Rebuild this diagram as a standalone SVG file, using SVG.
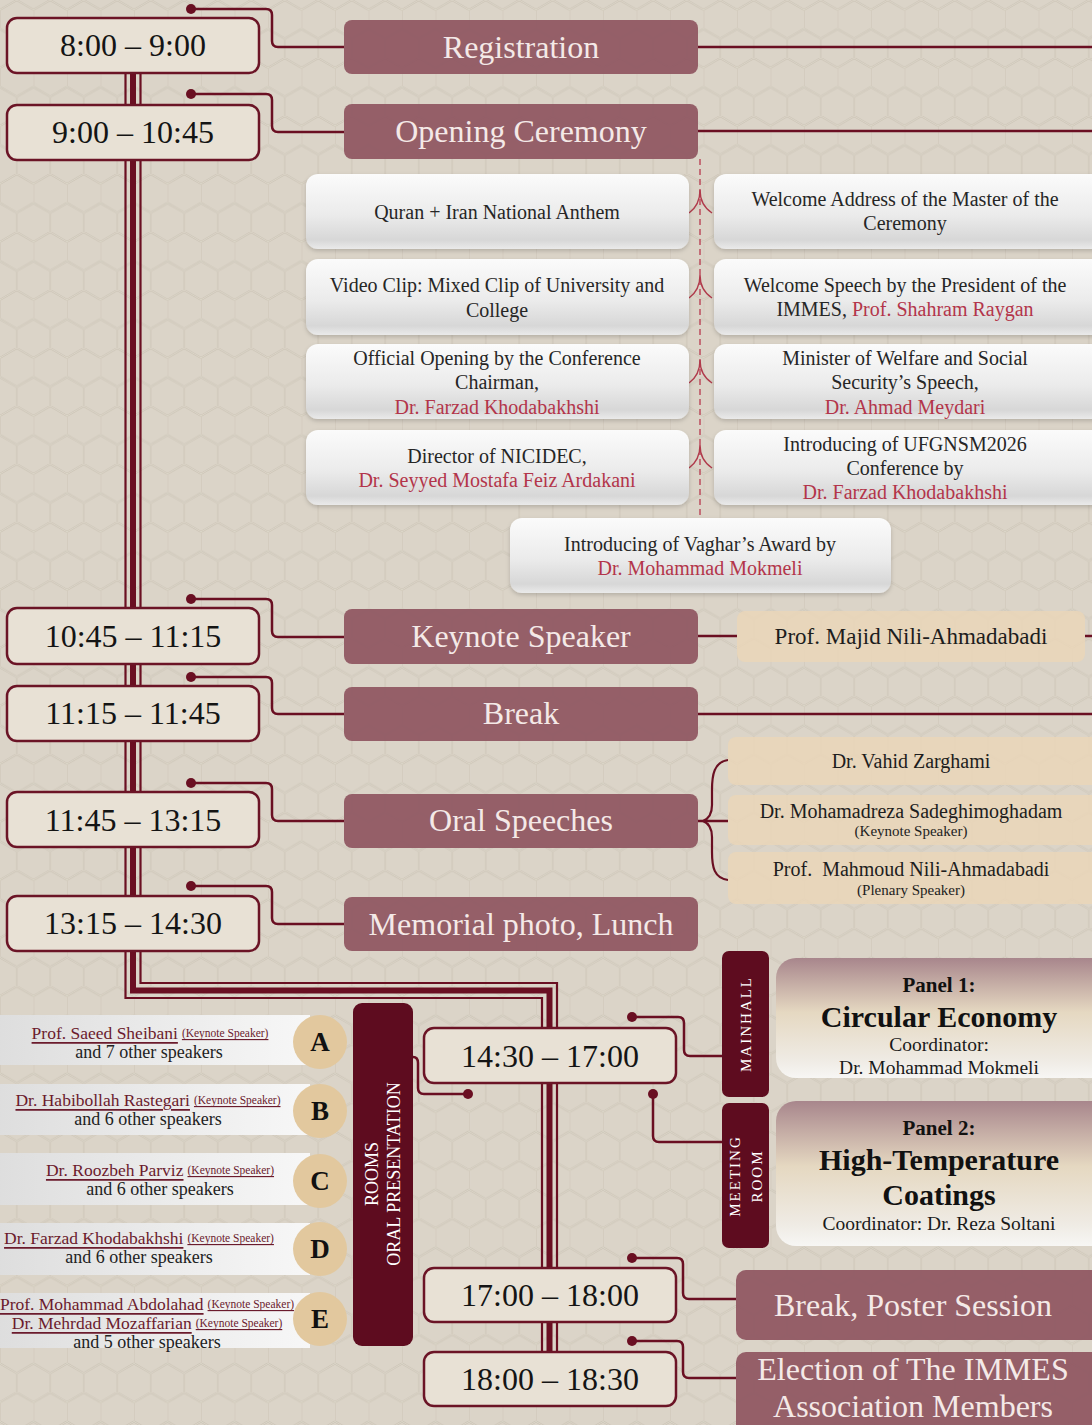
<svg xmlns="http://www.w3.org/2000/svg" width="1092" height="1425" viewBox="0 0 1092 1425">
<defs>
<pattern id="hex" width="33.5" height="58.02" patternUnits="userSpaceOnUse">
<path d="M0,9.67 L16.75,0 L33.5,9.67 M0,9.67 V29.01 L16.75,38.68 L33.5,29.01 M16.75,38.68 V58.02" fill="none" stroke="#cbc3b5" stroke-width="2"/>
<path d="M0,9.67 L16.75,0 L33.5,9.67 M0,9.67 V29.01 L16.75,38.68 L33.5,29.01 M16.75,38.68 V58.02" fill="none" stroke="#e3ddd2" stroke-width="0.7"/>
</pattern>
<linearGradient id="cardG" x1="0" y1="0" x2="0" y2="1">
<stop offset="0" stop-color="#fbfbfb"/><stop offset="0.55" stop-color="#ebebeb"/><stop offset="0.88" stop-color="#d7d7d7"/><stop offset="1" stop-color="#eaeaea"/>
</linearGradient>
<linearGradient id="stripG" x1="0" y1="0" x2="1" y2="0">
<stop offset="0" stop-color="#dddddd"/><stop offset="1" stop-color="#f7f7f7"/>
</linearGradient>
<linearGradient id="panelG" x1="0" y1="0" x2="0" y2="1">
<stop offset="0" stop-color="#a8868c"/><stop offset="0.45" stop-color="#e5d8c1"/><stop offset="0.85" stop-color="#efebe4"/><stop offset="1" stop-color="#f7f6f4"/>
</linearGradient>
<filter id="sh" x="-5%" y="-10%" width="110%" height="130%">
<feDropShadow dx="0" dy="2" stdDeviation="2" flood-color="#000" flood-opacity="0.18"/>
</filter>
</defs>
<style>
text{font-family:"Liberation Serif","DejaVu Serif",serif;text-anchor:middle;dominant-baseline:central}
.tb{fill:#e8e1d5;stroke:#6b1426;stroke-width:2.5}
.tt{font-size:32px;fill:#141414}
.ev{fill:#8f5661;fill-opacity:0.93}
.et{font-size:32px;fill:#f4e9e7}
.card{fill:url(#cardG);filter:url(#sh)}
.ct{font-size:20px;fill:#262626}
.rd{fill:#b3354a}
.tan{fill:#ead6b8;fill-opacity:0.85}
.tn{font-size:23px;fill:#1d1d1d}
.os{font-size:20px;fill:#1d1d1d}
.sm{font-size:15px;fill:#1d1d1d}
.ln{fill:none;stroke:#6a0f22;stroke-width:2.5}
.thin{fill:none;stroke:#6a0f22;stroke-width:2.2}
.thick{fill:none;stroke:#6a0f22;stroke-width:6}
.dot{fill:#6a0f22}
.mar{fill:#5e0c1f}
.rt{font-size:18px;fill:#ffffff}
.vt{font-size:15px;fill:#ffffff;letter-spacing:2px}
.strip{fill:url(#stripG)}
.sp{font-size:18px;fill:#222}
.nm{font-size:17.5px;fill:#6b1b2d;text-decoration:underline}
.ks{font-size:11.5px;fill:#6b1b2d;text-decoration:underline}
.circ{fill:#e2c89e}
.lt{font-size:27px;font-weight:bold;fill:#111}
.panel{fill:url(#panelG)}
.pb{font-weight:bold;fill:#111}
.pc{font-size:19.5px;fill:#1a1a1a}
.arch{fill:none;stroke:#b03a4b;stroke-width:1.4}
</style>

<rect x="0" y="0" width="1092" height="1425" fill="#dbd4c8"/>
<rect x="0" y="0" width="1092" height="1425" fill="url(#hex)"/>

<g id="connectors">
<path class="thin" d="M125.5 60 V998 H542 V1360"/>
<path class="thick" d="M133 60 V990.5 H549.5 V1360"/>
<path class="thin" d="M140.5 60 V983 H557 V1360"/>
<circle class="dot" cx="191" cy="9" r="5"/>
<path class="ln" d="M191 9 H266 Q272 9 272 15 V41 Q272 47 278 47 H344"/>
<circle class="dot" cx="191" cy="94" r="5"/>
<path class="ln" d="M191 94 H266 Q272 94 272 100 V126 Q272 132 278 132 H344"/>
<circle class="dot" cx="191" cy="599" r="5"/>
<path class="ln" d="M191 599 H266 Q272 599 272 605 V631 Q272 637 278 637 H344"/>
<circle class="dot" cx="191" cy="677" r="5"/>
<path class="ln" d="M191 677 H266 Q272 677 272 683 V708 Q272 714 278 714 H344"/>
<circle class="dot" cx="191" cy="783" r="5"/>
<path class="ln" d="M191 783 H266 Q272 783 272 789 V815 Q272 821 278 821 H344"/>
<circle class="dot" cx="191" cy="886" r="5"/>
<path class="ln" d="M191 886 H266 Q272 886 272 892 V918 Q272 924 278 924 H344"/>
<path class="ln" d="M698 47 H1092"/>
<path class="ln" d="M698 131 H1092"/>
<path class="ln" d="M698 636 H737 M1085 636 H1092"/>
<path class="ln" d="M698 714 H1092"/>
<path class="ln" d="M698 821 H728"/>
<path class="thin" d="M728 760 C714 762 712 775 712 790 V805 C712 815 708 819 703 821 C708 823 712 827 712 837 V852 C712 867 714 878 728 880"/>
<path d="M700 159 V517" fill="none" stroke="#b8394e" stroke-width="1.3" stroke-dasharray="6 4"/>
<path class="arch" d="M689 213 Q700 205 700 190 Q700 205 712 213"/>
<path class="arch" d="M689 298 Q700 290 700 275 Q700 290 712 298"/>
<path class="arch" d="M689 383 Q700 375 700 360 Q700 375 712 383"/>
<path class="arch" d="M689 468 Q700 460 700 445 Q700 460 712 468"/>
<circle class="dot" cx="632" cy="1017" r="5"/>
<path class="ln" d="M632 1017 H678 Q684 1017 684 1023 V1050 Q684 1056 690 1056 H722"/>
<circle class="dot" cx="653" cy="1094" r="5"/>
<path class="ln" d="M653 1094 V1136 Q653 1142 659 1142 H722"/>
<circle class="dot" cx="468" cy="1094" r="5"/>
<path class="ln" d="M413 1057 Q418 1057 418 1063 V1088 Q418 1094 424 1094 H468"/>
<circle class="dot" cx="632" cy="1258" r="5"/>
<path class="ln" d="M632 1258 H677 Q683 1258 683 1264 V1293 Q683 1299 689 1299 H736"/>
<circle class="dot" cx="632" cy="1341" r="5"/>
<path class="ln" d="M632 1341 H677 Q683 1341 683 1347 V1372 Q683 1378 689 1378 H736"/>
</g>

<g id="t0800"><rect class="tb" x="7" y="18" width="252" height="55" rx="10"/><text class="tt" x="133" y="45">8:00 – 9:00</text></g>
<g id="t0900"><rect class="tb" x="7" y="105" width="252" height="55" rx="10"/><text class="tt" x="133" y="132">9:00 – 10:45</text></g>
<g id="t1045"><rect class="tb" x="7" y="608" width="252" height="56" rx="10"/><text class="tt" x="133" y="636">10:45 – 11:15</text></g>
<g id="t1115"><rect class="tb" x="7" y="686" width="252" height="55" rx="10"/><text class="tt" x="133" y="713">11:15 – 11:45</text></g>
<g id="t1145"><rect class="tb" x="7" y="792" width="252" height="55" rx="10"/><text class="tt" x="133" y="820">11:45 – 13:15</text></g>
<g id="t1315"><rect class="tb" x="7" y="896" width="252" height="55" rx="10"/><text class="tt" x="133" y="923">13:15 – 14:30</text></g>
<g id="t1430"><rect class="tb" x="424" y="1028" width="252" height="55" rx="10"/><text class="tt" x="550" y="1056">14:30 – 17:00</text></g>
<g id="t1700"><rect class="tb" x="424" y="1268" width="252" height="54" rx="10"/><text class="tt" x="550" y="1295">17:00 – 18:00</text></g>
<g id="t1800"><rect class="tb" x="424" y="1352" width="252" height="54" rx="10"/><text class="tt" x="550" y="1379">18:00 – 18:30</text></g>

<g id="registration"><rect class="ev" x="344" y="20" width="354" height="54" rx="8"/><text class="et" x="521" y="47">Registration</text></g>
<g id="opening"><rect class="ev" x="344" y="104" width="354" height="55" rx="8"/><text class="et" x="521" y="131">Opening Ceremony</text></g>
<g id="keynote"><rect class="ev" x="344" y="609" width="354" height="55" rx="8"/><text class="et" x="521" y="636">Keynote Speaker</text></g>
<g id="break1"><rect class="ev" x="344" y="687" width="354" height="54" rx="8"/><text class="et" x="521" y="713">Break</text></g>
<g id="oral"><rect class="ev" x="344" y="794" width="354" height="54" rx="8"/><text class="et" x="521" y="820">Oral Speeches</text></g>
<g id="memorial"><rect class="ev" x="344" y="897" width="354" height="54" rx="8"/><text class="et" x="521" y="924">Memorial photo, Lunch</text></g>
<g id="poster"><rect class="ev" x="736" y="1270" width="370" height="70" rx="10"/><text class="et" x="913" y="1305">Break, Poster Session</text></g>
<g id="election"><rect class="ev" x="736" y="1352" width="370" height="85" rx="10"/><text class="et" x="913" y="1369">Election of The IMMES</text><text class="et" x="913" y="1406">Association Members</text></g>

<g id="c-quran"><rect class="card" x="306" y="174" width="383" height="75" rx="12"/><text class="ct" x="497" y="212">Quran + Iran National Anthem</text></g>
<g id="c-video"><rect class="card" x="306" y="259" width="383" height="76" rx="12"/><text class="ct" x="497" y="285">Video Clip: Mixed Clip of University and</text><text class="ct" x="497" y="310">College</text></g>
<g id="c-official"><rect class="card" x="306" y="344" width="383" height="75" rx="12"/><text class="ct" x="497" y="358">Official Opening by the Conference</text><text class="ct" x="497" y="382">Chairman,</text><text class="ct rd" x="497" y="407">Dr. Farzad Khodabakhshi</text></g>
<g id="c-director"><rect class="card" x="306" y="430" width="383" height="75" rx="12"/><text class="ct" x="497" y="456">Director of NICIDEC,</text><text class="ct rd" x="497" y="480">Dr. Seyyed Mostafa Feiz Ardakani</text></g>
<g id="c-welcome"><rect class="card" x="714" y="174" width="400" height="75" rx="12"/><text class="ct" x="905" y="199">Welcome Address of the Master of the</text><text class="ct" x="905" y="223">Ceremony</text></g>
<g id="c-president"><rect class="card" x="714" y="259" width="400" height="76" rx="12"/><text class="ct" x="905" y="285">Welcome Speech by the President of the</text><text class="ct" x="905" y="309">IMMES, <tspan class="rd">Prof. Shahram Raygan</tspan></text></g>
<g id="c-minister"><rect class="card" x="714" y="344" width="400" height="75" rx="12"/><text class="ct" x="905" y="358">Minister of Welfare and Social</text><text class="ct" x="905" y="382">Security’s Speech,</text><text class="ct rd" x="905" y="407">Dr. Ahmad Meydari</text></g>
<g id="c-ufgnsm"><rect class="card" x="714" y="430" width="400" height="75" rx="12"/><text class="ct" x="905" y="444">Introducing of UFGNSM2026</text><text class="ct" x="905" y="468">Conference by</text><text class="ct rd" x="905" y="492">Dr. Farzad Khodabakhshi</text></g>
<g id="c-vaghar"><rect class="card" x="510" y="518" width="381" height="75" rx="12"/><text class="ct" x="700" y="544">Introducing of Vaghar’s Award by</text><text class="ct rd" x="700" y="568">Dr. Mohammad Mokmeli</text></g>

<g id="s-majid"><rect class="tan" x="737" y="611" width="348" height="51" rx="8"/><text class="tn" x="911" y="636">Prof. Majid Nili-Ahmadabadi</text></g>
<g id="s-vahid"><rect class="tan" x="728" y="737" width="380" height="48" rx="8"/><text class="os" x="911" y="761">Dr. Vahid Zarghami</text></g>
<g id="s-sadeghi"><rect class="tan" x="728" y="795" width="380" height="50" rx="8"/><text class="os" x="911" y="811">Dr. Mohamadreza Sadeghimoghadam</text><text class="sm" x="911" y="831">(Keynote Speaker)</text></g>
<g id="s-mahmoud"><rect class="tan" x="728" y="852" width="380" height="52" rx="8"/><text class="os" x="911" y="869" xml:space="preserve">Prof.  Mahmoud Nili-Ahmadabadi</text><text class="sm" x="911" y="890">(Plenary Speaker)</text></g>

<g id="rooms"><rect class="mar" x="353" y="1003" width="60" height="343" rx="9"/><text class="rt" transform="translate(372 1174) rotate(-90)">ROOMS</text><text class="rt" transform="translate(394 1174) rotate(-90)">ORAL PRESENTATION</text></g>

<g id="room-a"><rect class="strip" x="-10" y="1015" width="320" height="50"/><text y="1033" x="150"><tspan class="nm">Prof. Saeed Sheibani</tspan> <tspan class="ks">(Keynote Speaker)</tspan></text><text class="sp" x="149" y="1052">and 7 other speakers</text><circle class="circ" cx="320" cy="1042" r="27"/><text class="lt" x="320" y="1042">A</text></g>
<g id="room-b"><rect class="strip" x="-10" y="1084" width="320" height="51"/><text y="1100" x="148"><tspan class="nm">Dr. Habibollah Rastegari</tspan> <tspan class="ks">(Keynote Speaker)</tspan></text><text class="sp" x="148" y="1119">and 6 other speakers</text><circle class="circ" cx="320" cy="1111" r="27"/><text class="lt" x="320" y="1111">B</text></g>
<g id="room-c"><rect class="strip" x="-10" y="1153" width="320" height="52"/><text y="1170" x="160"><tspan class="nm">Dr. Roozbeh Parviz</tspan> <tspan class="ks">(Keynote Speaker)</tspan></text><text class="sp" x="160" y="1189">and 6 other speakers</text><circle class="circ" cx="320" cy="1181" r="27"/><text class="lt" x="320" y="1181">C</text></g>
<g id="room-d"><rect class="strip" x="-10" y="1223" width="320" height="52"/><text y="1238" x="139"><tspan class="nm">Dr. Farzad Khodabakhshi</tspan> <tspan class="ks">(Keynote Speaker)</tspan></text><text class="sp" x="139" y="1257">and 6 other speakers</text><circle class="circ" cx="320" cy="1249" r="27"/><text class="lt" x="320" y="1249">D</text></g>
<g id="room-e"><rect class="strip" x="-10" y="1293" width="320" height="55"/><text y="1304" x="147"><tspan class="nm">Prof. Mohammad Abdolahad</tspan> <tspan class="ks">(Keynote Speaker)</tspan></text><text y="1323" x="147"><tspan class="nm">Dr. Mehrdad Mozaffarian</tspan> <tspan class="ks">(Keynote Speaker)</tspan></text><text class="sp" x="147" y="1342">and 5 other speakers</text><circle class="circ" cx="320" cy="1319" r="27"/><text class="lt" x="320" y="1319">E</text></g>

<g id="mainhall"><rect class="mar" x="722" y="951" width="47" height="146" rx="7"/><text class="vt" transform="translate(746 1024) rotate(-90)">MAINHALL</text></g>
<g id="meetingroom"><rect class="mar" x="722" y="1103" width="47" height="145" rx="7"/><text class="vt" transform="translate(735 1176) rotate(-90)">MEETING</text><text class="vt" transform="translate(757 1176) rotate(-90)">ROOM</text></g>

<g id="panel1"><rect class="panel" x="776" y="958" width="340" height="120" rx="20"/><text class="pb" x="939" y="985" style="font-size:21px">Panel 1:</text><text class="pb" x="939" y="1016" style="font-size:30px">Circular Economy</text><text class="pc" x="939" y="1044">Coordinator:</text><text class="pc" x="939" y="1067">Dr. Mohammad Mokmeli</text></g>
<g id="panel2"><rect class="panel" x="776" y="1101" width="340" height="145" rx="20"/><text class="pb" x="939" y="1128" style="font-size:21px">Panel 2:</text><text class="pb" x="939" y="1159" style="font-size:30px">High-Temperature</text><text class="pb" x="939" y="1194" style="font-size:30px">Coatings</text><text class="pc" x="939" y="1223">Coordinator: Dr. Reza Soltani</text></g>
</svg>
